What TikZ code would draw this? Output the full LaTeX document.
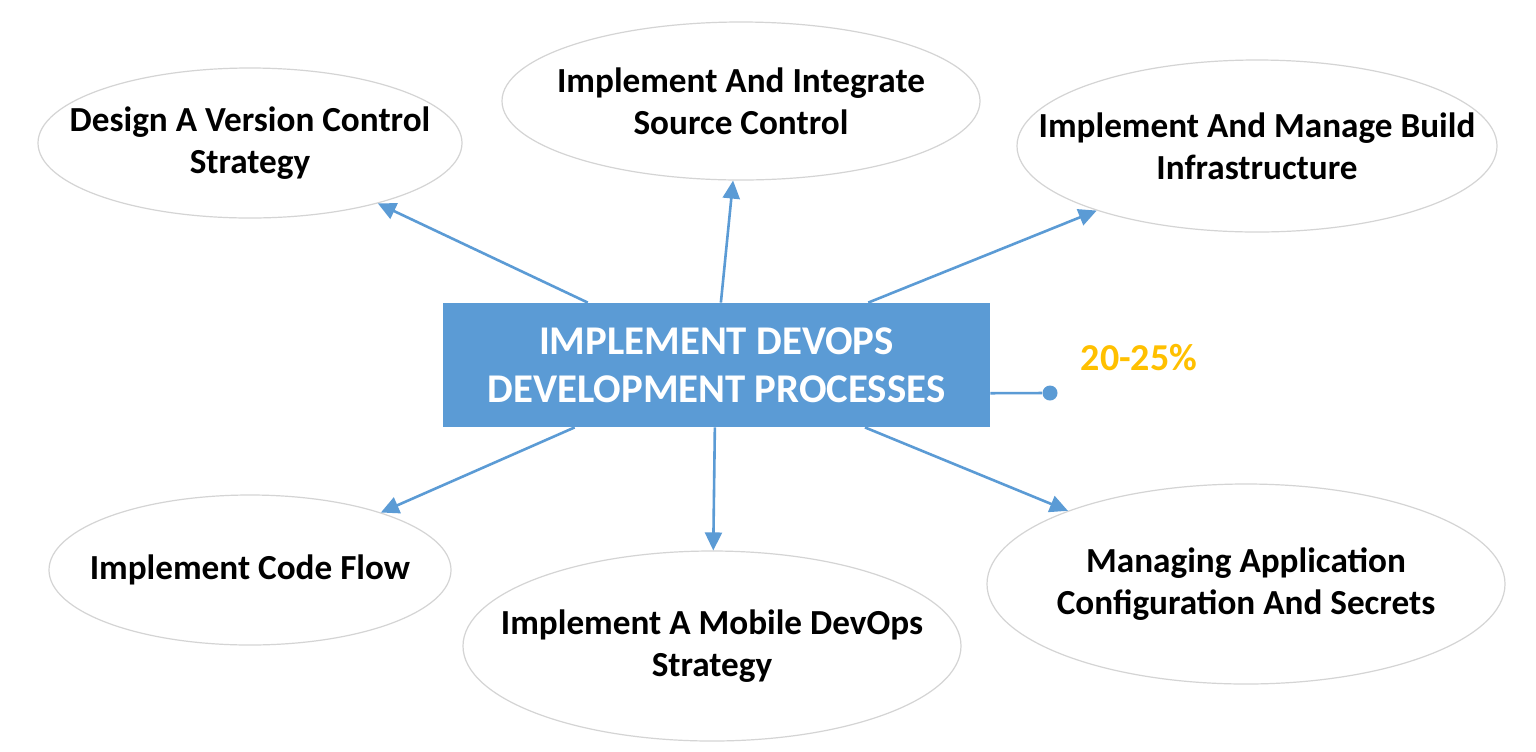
\documentclass[tikz,border=0pt]{standalone}
\usepackage{fontspec}
\setmainfont{Carlito}
\usetikzlibrary{shapes.geometric,arrows.meta,calc}
\definecolor{mblue}{HTML}{5B9BD5}
\definecolor{morange}{HTML}{FFC000}
\definecolor{egray}{HTML}{D4D4D4}
\tikzset{
  topic/.style={ellipse, draw=egray, line width=0.6pt, fill=white, inner sep=0pt},
  tlabel/.style={align=center, inner sep=0pt, font=\bfseries\fontsize{17.6}{21}\selectfont, text=black},
  mainbox/.style={rectangle, fill=mblue, draw=none, minimum width=273.5pt, minimum height=62pt,
    align=center, text=white, font=\bfseries\fontsize{20.4}{24.2}\selectfont},
  link/.style={draw=mblue, line width=1.3pt, -{Triangle[length=9pt,width=8.5pt]}},
  pct/.style={text=morange, font=\bfseries\fontsize{19}{22}\selectfont},
}
\begin{document}
\begin{tikzpicture}[x=0.5pt,y=-0.5pt]
\useasboundingbox (0,0) rectangle (1536,751);
\fill[white] (0,0) rectangle (1536,751);

\node[mainbox] (box) at (716.5,365) {IMPLEMENT DEVOPS\\DEVELOPMENT PROCESSES};

\node[topic, minimum width=212pt, minimum height=75pt, label={[tlabel]center:Design A Version Control\\Strategy}] (e1) at (250,143) {};
\node[topic, minimum width=239pt, minimum height=79pt, label={[tlabel]center:Implement And Integrate\\Source Control}] (e2) at (741,101) {};
\node[topic, minimum width=240pt, minimum height=86pt, label={[tlabel]center:Implement And Manage Build\\Infrastructure}] (e3) at (1257,146) {};
\node[topic, minimum width=201pt, minimum height=75pt, label={[tlabel]center:Implement Code Flow}] (e4) at (250,570) {};
\node[topic, minimum width=249pt, minimum height=95pt, label={[tlabel]center:Implement A Mobile DevOps\\Strategy}] (e5) at (712,646) {};
\node[topic, minimum width=259pt, minimum height=100pt, label={[tlabel]center:Managing Application\\Configuration And Secrets}] (e6) at (1246,584) {};

\coordinate (s1) at ($(box.north west)!0.265!(box.north east)$);
\coordinate (s2) at ($(box.north west)!0.508!(box.north east)$);
\coordinate (s3) at ($(box.north west)!0.777!(box.north east)$);
\coordinate (s4) at ($(box.south west)!0.241!(box.south east)$);
\coordinate (s5) at ($(box.south west)!0.497!(box.south east)$);
\coordinate (s6) at ($(box.south west)!0.771!(box.south east)$);

\draw[link] (s1) -- (e1);
\draw[link] (s2) -- (e2);
\draw[link] (s3) -- (e3);
\draw[link] (s4) -- (e4);
\draw[link] (s5) -- (e5);
\draw[link] (s6) -- (e6);

\coordinate (d1) at ($(box.south east)!0.274!(box.north east)$);
\node[circle, fill=mblue, inner sep=0pt, minimum size=7.5pt] (dot) at (1050,393) {};
\draw[mblue, line width=1.3pt] (d1) -- (dot);
\node[pct] (pct) at (1139,358) {20-25\%};
\end{tikzpicture}
\end{document}
